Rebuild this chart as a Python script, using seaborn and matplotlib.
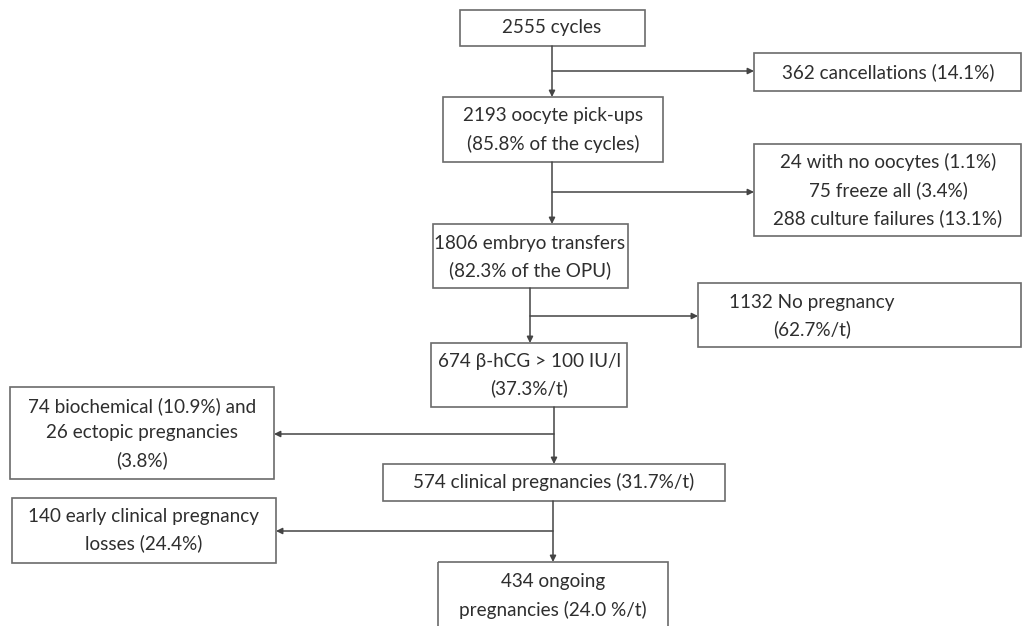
import matplotlib
matplotlib.use("Agg")
import matplotlib.pyplot as plt
import seaborn as sns
from matplotlib.patches import Rectangle

# flow steps (main column) and exclusions (side boxes)
main_steps = [
    "2555 cycles",
    "2193 oocyte pick-ups\n(85.8% of the cycles)",
    "1806 embryo transfers\n(82.3% of the OPU)",
    "674 \u03b2-hCG > 100 IU/l\n(37.3%/t)",
    "574 clinical pregnancies (31.7%/t)",
    "434 ongoing\npregnancies (24.0 %/t)",
]
exclusions = [
    "362 cancellations (14.1%)",
    "24 with no oocytes (1.1%)\n75 freeze all (3.4%)\n288 culture failures (13.1%)",
    "1132 No pregnancy\n(62.7%/t)",
    "74 biochemical (10.9%) and\n26 ectopic pregnancies\n(3.8%)",
    "140 early clinical pregnancy\nlosses (24.4%)",
]

# layout in pixel units: (left, top, right, bottom), text centre
main_boxes = [
    (460, 10, 645, 46),
    (443, 97, 663, 162),
    (433, 224, 628, 288),
    (431, 343, 627, 407),
    (383, 464, 725, 501),
    (438, 562, 668, 650),
]
main_text = [(552, 28), (553, 130), (530, 257), (529, 375), (554, 482), (553, 596)]
side_boxes = [
    (754, 53, 1021, 91),
    (754, 144, 1021, 236),
    (698, 283, 1021, 347),
    (10, 387, 274, 479),
    (12, 498, 276, 563),
]
side_text = [(888, 72), (888, 190), (812, 316), (142, 433), (144, 530)]
# (trunk x, from y, to y) and branch (y, target x)
trunks = [(552, 46, 97), (552, 162, 224), (530, 288, 343), (554, 407, 464), (553, 501, 562)]
branches = [(71, 754), (192, 754), (316, 698), (434, 274), (531, 276)]

sns.set_theme(style="white")
plt.rcParams["font.family"] = ["Lato", "DejaVu Sans"]

fig = plt.figure(figsize=(10.22, 6.26), dpi=100)
ax = fig.add_axes([0, 0, 1, 1])
ax.set_xlim(0, 1022)
ax.set_ylim(626, 0)
ax.axis("off")

edge = "#6b6b6b"
txt = "#2e2e2e"
fs = 13.6

for (l, t, r, b), (cx, cy), label in zip(main_boxes + side_boxes, main_text + side_text, main_steps + exclusions):
    ax.add_patch(Rectangle((l, t), r - l, b - t, fill=False, edgecolor=edge, lw=1.2))
    ax.text(cx, cy, label, ha="center", va="center", fontsize=fs, color=txt, linespacing=1.66)

arrow = dict(arrowstyle="-|>", color="#444444", lw=1.1, mutation_scale=9, shrinkA=0, shrinkB=0)
for (x, y0, y1), (by, bx) in zip(trunks, branches):
    ax.annotate("", xy=(x, y1), xytext=(x, y0), arrowprops=arrow)
    ax.annotate("", xy=(bx, by), xytext=(x, by), arrowprops=arrow)

fig.savefig("out.png", dpi=100, facecolor="white")
